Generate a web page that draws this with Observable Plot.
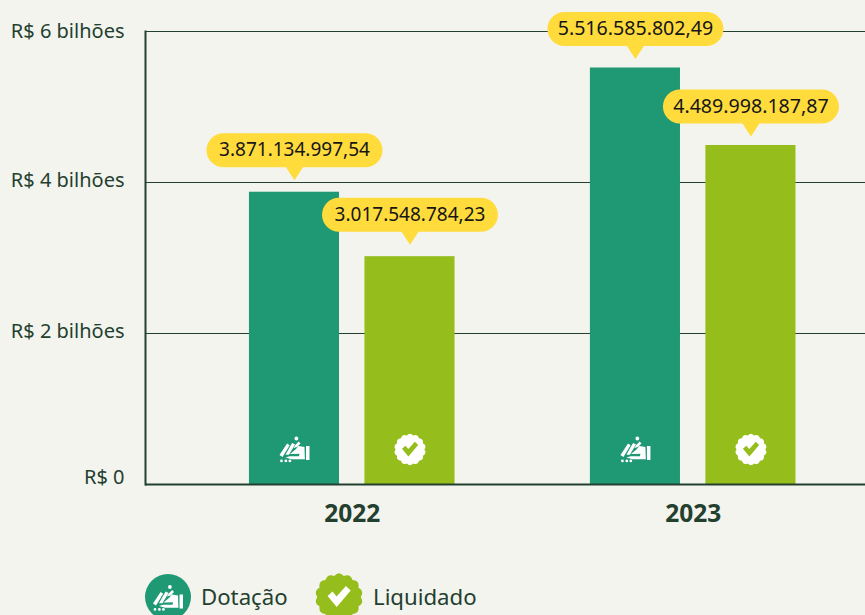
<!DOCTYPE html>
<html><head><meta charset="utf-8">
<script src="https://cdn.jsdelivr.net/npm/d3@7"></script>
<script src="https://cdn.jsdelivr.net/npm/@observablehq/plot@0.6"></script>
<style>
html,body{margin:0;padding:0;background:#f4f4ee;overflow:hidden}
#c{position:relative;width:865px;height:615px;overflow:hidden}
#c svg.plot{display:block;background:transparent}
#legend{position:absolute;left:0;top:560px;width:865px;height:55px;font:22.2px "Noto Sans",sans-serif;color:#23402f}
#legend svg{position:absolute;overflow:visible}
#legend span{position:absolute;top:20px;line-height:34px}
</style></head><body><div id="c"></div>
<script>
const years = ["2022", "2023"];
const seriesNames = ["Dotação", "Liquidado"];
const dotacao = [3871134997.54, 5516585802.49];
const liquidado = [3017548784.23, 4489998187.87];
const valueLabels = ["3.871.134.997,54", "5.516.585.802,49", "3.017.548.784,23", "4.489.998.187,87"];
const yTicks = [0, 2e9, 4e9, 6e9];
const yTickLabels = ["R$ 0", "R$ 2 bilhões", "R$ 4 bilhões", "R$ 6 bilhões"];
const colors = ["#1f9874", "#95bd1c"];

// x axis runs in "bar slots": one unit is the distance between two bars of a group
const groupCentres = [0.5, 3.452];
const barWidth = 0.78;
const rows = [
  ...years.map((y, i) => ({year: y, i, serie: 0, x: groupCentres[i] - .5, value: dotacao[i], label: valueLabels[i]})),
  ...years.map((y, i) => ({year: y, i, serie: 1, x: groupCentres[i] + .5, value: liquidado[i], label: valueLabels[i + 2]}))
];

const pill = {draw(c) {
  const w = 88, r = 17, b = -13, t = b - 34;
  c.moveTo(0, 0); c.lineTo(-8.5, b);
  c.lineTo(-w + r, b); c.arc(-w + r, b - r, r, Math.PI / 2, -Math.PI / 2);
  c.lineTo(w - r, t); c.arc(w - r, b - r, r, -Math.PI / 2, Math.PI / 2);
  c.lineTo(8.5, b); c.closePath();
}};
const scallop = R => ({draw(c) {
  const N = 14;
  for (let i = 0; i < N; i++) {
    const a0 = i / N * 2 * Math.PI, a1 = (i + 1) / N * 2 * Math.PI, am = (a0 + a1) / 2;
    if (i === 0) c.moveTo(R * .9 * Math.cos(a0), R * .9 * Math.sin(a0));
    c.quadraticCurveTo(R * 1.1 * Math.cos(am), R * 1.1 * Math.sin(am), R * .9 * Math.cos(a1), R * .9 * Math.sin(a1));
  }
  c.closePath();
}});
const check = k => ({draw(c) {
  const pts = [[-7.6,-.6],[-4.3,-3.6],[-1.6,-.4],[4.6,-7.4],[7.8,-4.4],[-1.5,6.6]];
  pts.forEach((p, i) => i ? c.lineTo(p[0]*k, p[1]*k) : c.moveTo(p[0]*k, p[1]*k));
  c.closePath();
}});
const hand = k => ({draw(c) {
  const poly = pts => { pts.forEach((p, i) => i ? c.lineTo(p[0]*k, p[1]*k) : c.moveTo(p[0]*k, p[1]*k)); c.closePath(); };
  poly([[11.5,-3.4],[15,-3.4],[15,10.4],[11.5,10.4]]);
  poly([[-4.5,4.6],[1,0],[4,-3.4],[10,-2.6],[10.4,9.8],[-3,9.8],[-9,8],[-5,6.8],[4.5,6.8],[5,4.2],[-1,4.6]]);
  poly([[-15,5.5],[-7.4,-6],[-4.8,-4.2],[-12,7.6]]);
  poly([[-9,5.2],[-2.4,-6.6],[0.6,-5],[-5.6,5.2]]);
  poly([[-1,-1.6],[0.8,-4.4],[4.2,-8],[6,-6],[2.6,-2.6]]);
  c.moveTo(3.6,-11); c.arc(1.9,-11,1.9,0,2*Math.PI);
  for (const x of [-13,-8.6,-4.6]) { c.moveTo(x+1.4,11.4); c.arc(x,11.4,1.4,0,2*Math.PI); }
}});

const axisPart = (ticks, dy) => Plot.axisY({anchor: "left", ticks, dy,
  tickFormat: d => yTickLabels[yTicks.indexOf(d)], tickSize: 0, tickPadding: 21,
  fontSize: 20, color: "#23402f", label: null});
const labelled = (data, lift, fontSize) => [
  Plot.dot(data, {x: "x", y: "value", dy: -lift, symbol: pill, r: 10, fill: "#ffdc3c", stroke: "none"}),
  Plot.text(data, {x: "x", y: "value", text: "label", dy: -lift - 30, fontSize, fill: "#161616"})
];

const chart = Plot.plot({
  width: 865, height: 560,
  marginLeft: 145, marginRight: 0, marginTop: 31, marginBottom: 76,
  style: {background: "transparent", fontFamily: "Noto Sans, sans-serif", overflow: "visible"},
  x: {domain: [-1.29, 4.944], label: null},
  y: {domain: [0, 6e9], label: null},
  marks: [
    Plot.ruleY(yTicks.slice(1), {stroke: "#23402f", strokeWidth: 1}),
    Plot.rectY(rows, {x1: d => d.x - barWidth / 2, x2: d => d.x + barWidth / 2, y: "value", fill: d => colors[d.serie]}),
    Plot.ruleY([0], {stroke: "#23402f", strokeWidth: 2}),
    Plot.frame({anchor: "left", stroke: "#23402f", strokeWidth: 2}),
    axisPart([6e9], 0),
    axisPart([2e9, 4e9], -2),
    axisPart([0], -7),
    Plot.axisX({anchor: "bottom", ticks: groupCentres, tickFormat: d => years[groupCentres.indexOf(d)], tickSize: 0, tickPadding: 20, fontSize: 24.5, fontWeight: 700, color: "#23402f", label: null}),
    labelled(rows.filter(d => d.i === 0), 12, 19),
    labelled(rows.filter(d => d.i === 1), 9, 19.6),
    Plot.dot(rows.filter(d => d.serie === 0), {x: "x", y: 0, dy: -35, symbol: hand(1), r: 10, fill: "white", stroke: "none"}),
    Plot.dot(rows.filter(d => d.serie === 1), {x: "x", y: 0, dy: -35, symbol: scallop(16), r: 10, fill: "white", stroke: "none"}),
    Plot.dot(rows.filter(d => d.serie === 1), {x: "x", y: 0, dy: -35, symbol: check(1.05), r: 10, fill: colors[1], stroke: "none"})
  ]
});
document.getElementById("c").appendChild(chart);

const legend = document.createElement("div");
legend.id = "legend";
const pathOf = s => { const p = d3.path(); s.draw(p); return p.toString(); };
legend.innerHTML = `
<svg style="left:168px;top:37px" width="1" height="1">
  <circle r="23" fill="${colors[0]}"/><path transform="translate(0,1)" fill="white" d="${pathOf(hand(1))}"/></svg>
<span style="left:201px">${seriesNames[0]}</span>
<svg style="left:338.5px;top:37px" width="1" height="1">
  <path fill="${colors[1]}" d="${pathOf(scallop(24))}"/><path fill="white" d="${pathOf(check(1.5))}"/></svg>
<span style="left:373px">${seriesNames[1]}</span>`;
document.getElementById("c").appendChild(legend);
</script></body></html>
